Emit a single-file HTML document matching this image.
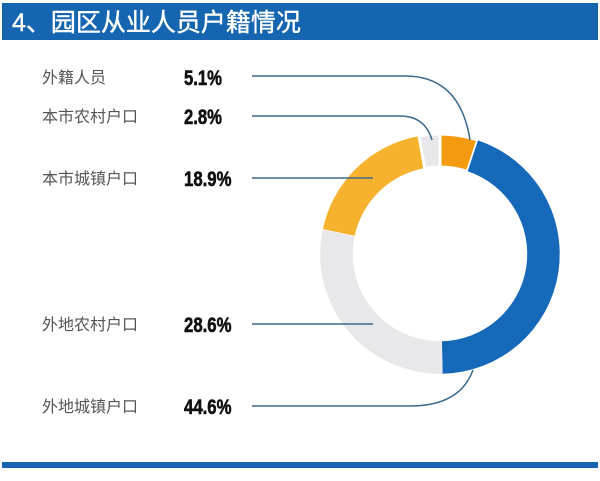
<!DOCTYPE html>
<html><head><meta charset="utf-8"><style>
html,body{margin:0;padding:0;background:#fff;width:600px;height:481px;overflow:hidden}
</style></head><body>
<svg width="600" height="481" viewBox="0 0 600 481" xmlns="http://www.w3.org/2000/svg">
<rect x="2" y="3" width="596" height="37" fill="#1565b0"/>
<text x="12" y="31" fill="#fff" font-size="25" font-weight="normal" stroke="#fff" stroke-width="0.4" font-family="Liberation Sans, Noto Sans CJK SC, sans-serif">4、园区从业人员户籍情况</text>
<rect x="2" y="462" width="596" height="6" fill="#1565b0"/>
<g id="donut"></g>
<g id="labels"></g>
<path d="M252 76 L405 76 Q460 76 470 140" fill="none" stroke="#3a6a8c" stroke-width="1.5"/>
<path d="M252 116 L400 116 Q425 116 432 140" fill="none" stroke="#3a6a8c" stroke-width="1.5"/>
<path d="M252 178 L373 178" fill="none" stroke="#3a6a8c" stroke-width="1.5"/>
<path d="M252 324 L373 324" fill="none" stroke="#3a6a8c" stroke-width="1.5"/>
<path d="M252 406 L410 406 Q460 406 473 370" fill="none" stroke="#3a6a8c" stroke-width="1.5"/>
</svg>
<script>
const categories=["外籍人员","外地城镇户口","外地农村户口","本市城镇户口","本市农村户口"];
const values=[5.1,44.6,28.6,18.9,2.8];
const colors=["#f39a0e","#1569b8","#e8e8ea","#f6b22c","#e8e8ea"];
const labelOrder=[0,4,3,2,1];
const labelTexts=["5.1%","2.8%","18.9%","28.6%","44.6%"];
const NS="http://www.w3.org/2000/svg";
const cx=440,cy=254,R=120,r=87;
const total=values.reduce((a,b)=>a+b,0);
function pt(a,rad){return [cx+rad*Math.sin(a),cy-rad*Math.cos(a)];}
let acc=0;
const g=document.getElementById('donut');
values.forEach((v,i)=>{
 const a0=acc/total*2*Math.PI, a1=(acc+v)/total*2*Math.PI; acc+=v;
 const [x0,y0]=pt(a0,R),[x1,y1]=pt(a1,R),[x2,y2]=pt(a1,r),[x3,y3]=pt(a0,r);
 const L=(a1-a0)>Math.PI?1:0;
 const p=document.createElementNS(NS,'path');
 p.setAttribute('d',`M${x0} ${y0}A${R} ${R} 0 ${L} 1 ${x1} ${y1}L${x2} ${y2}A${r} ${r} 0 ${L} 0 ${x3} ${y3}Z`);
 p.setAttribute('fill',colors[i]);
 p.setAttribute('stroke','#fff');p.setAttribute('stroke-width',i===0||i===4?'3':'0.5');
 
 
 g.appendChild(p);
});
const rows=[77,116,178,324,406];
const lg=document.getElementById('labels');
labelOrder.forEach((ci,k)=>{
 const t=document.createElementNS(NS,'text');
 t.setAttribute('x',42);t.setAttribute('y',rows[k]+6);
 t.setAttribute('font-size','16');t.setAttribute('fill','#555');
 t.setAttribute('font-family','Liberation Sans, Noto Sans CJK SC, sans-serif');
 t.textContent=categories[ci];
 
 
 lg.appendChild(t);
 const p=document.createElementNS(NS,'text');
 p.setAttribute('x',184);p.setAttribute('y',rows[k]+8);
 p.setAttribute('font-size','21');p.setAttribute('font-weight','bold');p.setAttribute('fill','#111');
 p.setAttribute('stroke','#111');p.setAttribute('stroke-width','0.6');
 p.setAttribute('font-family','Liberation Sans Narrow, Liberation Sans, sans-serif');
 p.setAttribute('textLength',labelTexts[k].length*9.5);p.setAttribute('lengthAdjust','spacingAndGlyphs');
 p.textContent=values[ci]+'%';
 
 
 lg.appendChild(p);
});
</script>
</body></html>
